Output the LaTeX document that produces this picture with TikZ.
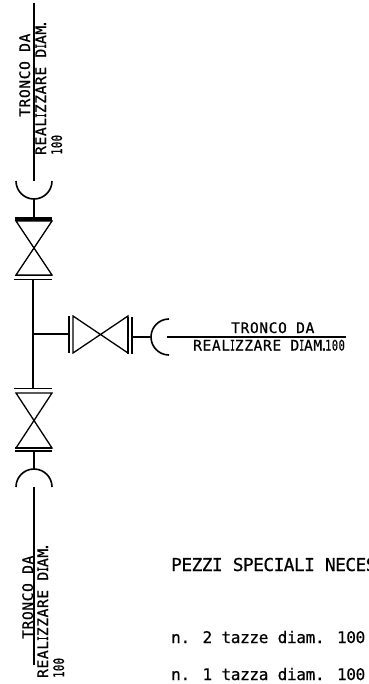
\documentclass[tikz,border=0pt]{standalone}
\usepackage{fontspec}
\newfontfamily\cadfont[LetterSpace=4.5,FakeBold=0.6]{DejaVu Sans Mono}
\newfontfamily\cadtitlefont[LetterSpace=-3,FakeBold=0.6]{DejaVu Sans Mono}
\newfontfamily\cadlistfont[LetterSpace=-2,FakeBold=0.6]{DejaVu Sans Mono}
\newcommand{\narrowI}{\scalebox{0.55}[1]{I}}
\newcommand{\realizzare}{REAL\narrowI ZZARE D\narrowI AM\kern-2.6pt.}
\newcommand{\hundred}{\scalebox{0.72}[1]{100}}
\tikzset{
	pipe/.style={line width=1.6pt},
	valve/.style={line width=1.3pt},
	label/.style={font=\cadfont\fontsize{14.5}{15}\selectfont, inner sep=0pt, anchor=base west},
	title/.style={font=\cadtitlefont\fontsize{17.8}{18}\selectfont, inner sep=0pt, anchor=base west},
	list/.style={font=\cadlistfont\fontsize{16}{17}\selectfont, inner sep=0pt, anchor=base west}
}
\begin{document}
\begin{tikzpicture}[x=1pt,y=-1pt]
	\useasboundingbox (0,0) rectangle (368,684);

	\draw[pipe] (34,3) -- (34,181);
	\draw[pipe] (16,181) arc (180:360:18 and -18);
	\draw[pipe] (34,199) -- (34,218);
	\draw[pipe] (15,218) -- (52,218);
	\draw[pipe] (15,220) -- (52,220);
	\draw[valve] (16,221) -- (52,221) -- (16,275) -- (52,275) -- cycle;
	\draw[pipe] (15,275.5) -- (52,275.5);
	\draw[pipe] (14,279.5) -- (52,279.5);

	\draw[pipe] (33,280) -- (33,388);
	\draw[pipe] (33,334) -- (69,334);

	\draw[pipe] (69,316) -- (69,353);
	\draw[valve] (73,316) -- (128,353) -- (128,316) -- (73,353) -- cycle;
	\draw[pipe] (132,317) -- (132,354);
	\draw[pipe] (128,317) -- (128,354);
	\draw[pipe] (132,337) -- (150,337);
	\draw[pipe] (169,319) arc (90:270:18 and -18);
	\draw[pipe] (167,337) -- (346,337);

	\draw[pipe] (14,388.5) -- (52,388.5);
	\draw[valve] (16,393) -- (52,393) -- (16,448) -- (52,448) -- cycle;
	\draw[pipe] (15,448) -- (52,448);
	\draw[pipe] (15,451) -- (52,451);
	\draw[pipe] (34,451) -- (34,468.5);
	\draw[pipe] (16,487) arc (180:0:18 and -18);
	\draw[pipe] (34,487) -- (34,665);

	\node[label, rotate=90] (topa) at (30,117) {TRONCO DA};
	\node[label, rotate=90] (topb) at (46,155) {\realizzare};
	\node[label, rotate=90] (topc) at (62,155) {\hundred};

	\node[label] (sidea) at (231,333) {TRONCO DA};
	\node[label] (sideb) at (193,350.5) {\realizzare\kern-3.2pt\hundred};

	\node[label, rotate=90] (bota) at (33,639) {TRONCO DA};
	\node[label, rotate=90] (botb) at (48,678) {\realizzare};
	\node[label, rotate=90] (botc) at (64,678) {\hundred};

	\node[title] (pezzi) at (171,571) {PEZZI SPECIALI NECES};
	\node[list] (tazze) at (171,643) {n. 2 tazze diam. 100};
	\node[list] (tazza) at (171,680) {n. 1 tazza diam. 100};
\end{tikzpicture}
\end{document}
